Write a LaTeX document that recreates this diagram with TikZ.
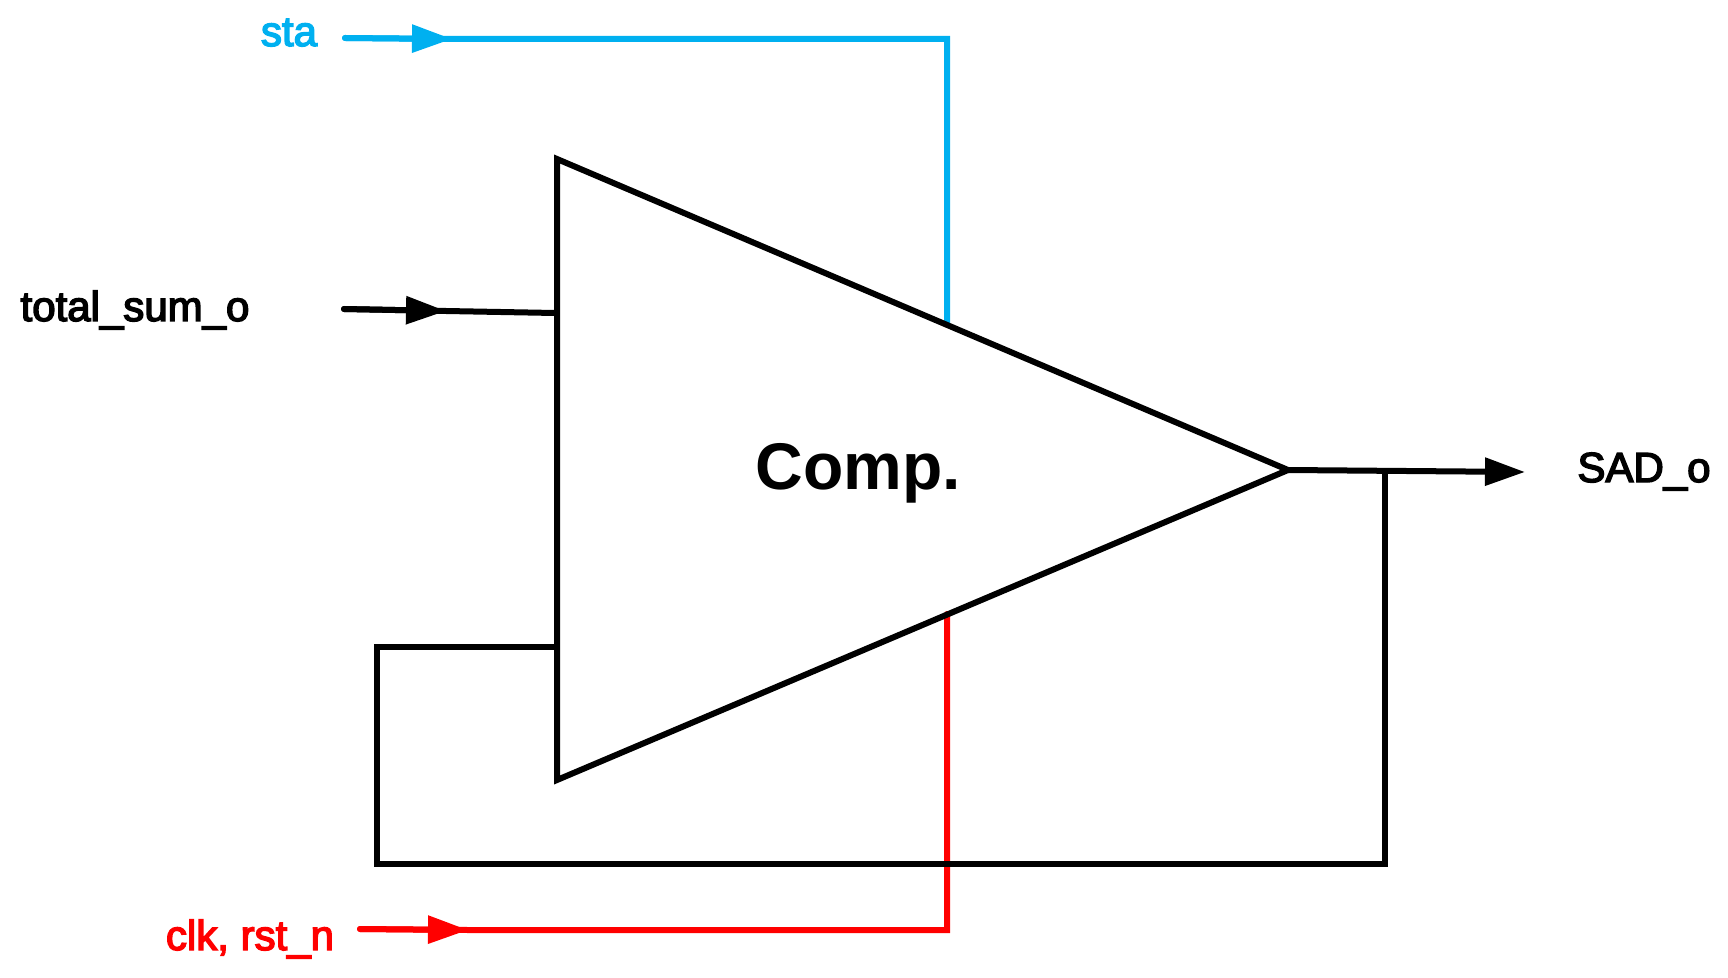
\documentclass[tikz,border=0pt]{standalone}
\usepackage{xcolor}
\usepackage{fontspec}
\usepackage{tikz}
\usetikzlibrary{arrows.meta}
\setmainfont{Liberation Sans}
\newfontfamily\lblfont[FakeBold=3.5]{Liberation Sans}
\definecolor{stablue}{HTML}{00B0F0}
\tikzset{
    wire/.style = {line width=3pt, line join=miter, line cap=round},
    feed/.style = {wire, -{Triangle[length=20pt, width=13.5pt]}},
    lbl/.style = {inner sep=0pt, anchor=base, font=\lblfont\fontsize{21}{21}\selectfont},
}

\begin{document}
\begin{tikzpicture}[x=0.5pt, y=-0.5pt]
                \useasboundingbox (0,0) rectangle (1728,978);
                
                \coordinate (A) at (557,159);
                \coordinate (B) at (1288,470);
                \coordinate (C) at (557,780);
                
                \node (comp) [inner sep=0pt, anchor=base, font=\bfseries\fontsize{33}{33}\selectfont] at (858,489) {Comp.};
                
                \node (sta) [lbl, text=stablue] at (289,46) {sta};
                \node (total) [lbl] at (135,321) {total\_sum\_o};
                \node (clk) [lbl, text=red] at (250,950) {clk, rst\_n};
                \node (sad) [lbl] at (1644,482) {SAD\_o};
                
                \coordinate (staS) at (345,38);
                \coordinate (staM) at (452,39);
                \coordinate (staC) at (947,39);
                \coordinate (staE) at (947,323);
                
                \coordinate (totalS) at (344,309);
                \coordinate (totalM) at (446,311);
                \coordinate (totalE) at (555,313);
                
                \coordinate (clkS) at (360,929);
                \coordinate (clkM) at (468,930);
                \coordinate (clkC) at (947,930);
                \coordinate (clkE) at (947,614);
                
                \coordinate (sadM) at (1525,472);
                \coordinate (backA) at (1385,470);
                \coordinate (backB) at (1385,864);
                \coordinate (backC) at (377,864);
                \coordinate (backD) at (377,647);
                \coordinate (backE) at (555,647);
                
                \draw[wire, stablue] (staS) -- (staM) -- (staC) -- (staE);
                \draw[feed, stablue] (staS) -- (staM);
                
                \draw[wire] (totalS) -- (totalM) -- (totalE);
                \draw[feed] (totalS) -- (totalM);
                
                \draw[wire, red] (clkS) -- (clkM) -- (clkC) -- (clkE);
                \draw[feed, red] (clkS) -- (clkM);
                
                \draw[wire, line cap=butt] (A) -- (B) -- (C) -- cycle;
                
                \draw[feed] (B) -- (sadM);
                \draw[wire, line cap=butt] (backA) -- (backB) -- (backC) -- (backD) -- (backE);
            \end{tikzpicture}
\end{document}
